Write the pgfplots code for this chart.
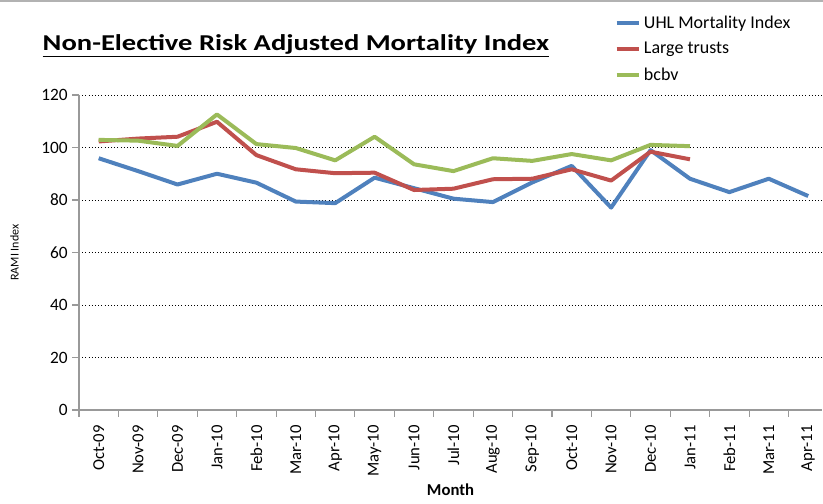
\documentclass[border=0pt]{standalone}
\usepackage{pgfplots}
\pgfplotsset{compat=1.18}
\usepackage{fontspec}
\setmainfont{Carlito}
\definecolor{uhlblue}{HTML}{4F81BD}
\definecolor{lgred}{HTML}{C0504D}
\definecolor{bcgreen}{HTML}{9BBB59}

\begin{document}
\begin{tikzpicture}
% page is 823x503 px, 1 px = 0.75pt
\path[use as bounding box] (0pt,0pt) rectangle (617.25pt,377.25pt);
\draw[gray!60, line width=1pt] (0pt,376.5pt) -- (617.25pt,376.5pt);
\begin{axis}[
  at={(59.25pt,69.75pt)}, anchor=south west,
  scale only axis,
  width=557.25pt, height=236.25pt,
  xmin=-0.5, xmax=18.35,
  ymin=0, ymax=120,
  ytick={0,20,...,120},
  xtick={0,...,18},
  xticklabels={Oct-09,Nov-09,Dec-09,Jan-10,Feb-10,Mar-10,Apr-10,May-10,Jun-10,
    Jul-10,Aug-10,Sep-10,Oct-10,Nov-10,Dec-10,Jan-11,Feb-11,Mar-11,Apr-11},
  major x tick style={draw=none},
  minor xtick={-0.5,0.5,...,18},
  minor tick length=5pt,
  major tick length=5pt,
  tick align=outside,
  tick style={gray!80, line width=0.8pt},
  xticklabel style={rotate=90, anchor=east, font=\fontsize{12.5}{12.5}\selectfont, xshift=-3pt},
  yticklabel style={font=\fontsize{13}{13}\selectfont},
  /pgf/number format/assume math mode=true,
  axis x line*=bottom, axis y line*=left,
  axis line style={gray!80, line width=1pt},
  ymajorgrids,
  major grid style={black, dotted, line width=0.6pt},
  xlabel={\textbf{Month}},
  xlabel style={font=\fontsize{12.5}{12.5}\selectfont, inner sep=1pt, yshift=-1pt},
  ylabel={RAMI Index},
  ylabel style={font=\fontsize{9}{9}\selectfont},
  ylabel shift=10pt,
  clip=false,
  legend style={at={(0.715,1.27)}, anchor=north west, draw=none, fill=none,
    font=\fontsize{13.5}{13.5}\selectfont, row sep=5pt},
  legend cell align=left,
  legend image post style={line width=3pt},
  every axis plot/.append style={line width=3pt, line join=round},
]
\addplot[uhlblue, mark=none] coordinates {
  (0,95.9) (1,91) (2,85.9) (3,90) (4,86.6) (5,79.4) (6,78.8) (7,88.5) (8,84.5)
  (9,80.5) (10,79.2) (11,86.7) (12,93) (13,77.1) (14,99) (15,88.1) (16,83)
  (17,88.1) (18,81.5)
};
\addplot[lgred, mark=none] coordinates {
  (0,102.3) (1,103.4) (2,104.1) (3,109.8) (4,97.1) (5,91.7) (6,90.2) (7,90.4)
  (8,83.8) (9,84.3) (10,87.9) (11,88.1) (12,91.7) (13,87.4) (14,98.4) (15,95.5)
};
\addplot[bcgreen, mark=none] coordinates {
  (0,102.9) (1,102.6) (2,100.6) (3,112.6) (4,101.3) (5,99.8) (6,95.1) (7,104.1)
  (8,93.6) (9,91) (10,95.9) (11,94.9) (12,97.5) (13,95.1) (14,101) (15,100.5)
};
\legend{UHL Mortality Index, Large trusts, bcbv}
\node[font=\fontsize{17}{17}\selectfont\bfseries] at (rel axis cs:0.292,1.155)
  {\scalebox{1.26}[1]{\underline{Non-Elective Risk Adjusted Mortality Index}}};
\end{axis}
\end{tikzpicture}
\end{document}
